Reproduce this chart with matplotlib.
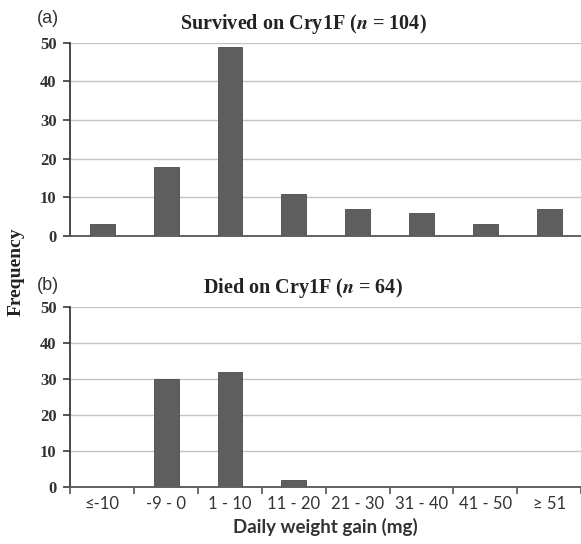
import matplotlib.pyplot as plt
import numpy as np

categories = ["\u2264-10", "-9 - 0", "1 - 10", "11 - 20", "21 - 30", "31 - 40", "41 - 50", "\u2265 51"]
survived = [3, 18, 49, 11, 7, 6, 3, 7]
died = [0, 30, 32, 2, 0, 0, 0, 0]

serif = "Liberation Serif"
sans = ["Lato", "DejaVu Sans"]
plt.rcParams["mathtext.fontset"] = "stix"

fig = plt.figure(figsize=(5.81, 5.44), dpi=100)
ax1 = fig.add_axes([0.1213, 0.566, 0.8787, 0.3553])
ax2 = fig.add_axes([0.1213, 0.1053, 0.8787, 0.3309])

x = np.arange(len(categories))

def style_axis(ax, counts, show_labels):
    ax.bar(x, counts, width=0.39, color="#5e5e5e", edgecolor="#4a4a4a", linewidth=0.6, zorder=3)
    ax.set_xlim(-0.5, len(categories) - 0.5)
    ax.set_ylim(0, 50)
    ax.set_yticks([0, 10, 20, 30, 40, 50])
    ax.yaxis.grid(True, color="#c4c4c4", linewidth=1.0, zorder=0)
    ax.set_axisbelow(True)
    for s in ["top", "right"]:
        ax.spines[s].set_visible(False)
    ax.spines["left"].set_color("#3a3a3a")
    ax.spines["bottom"].set_color("#555555")
    ax.spines["left"].set_linewidth(1.3)
    ax.spines["bottom"].set_linewidth(1.3)
    ax.tick_params(axis="y", length=5, width=1.2, color="#3a3a3a", pad=5)
    for lab in ax.get_yticklabels():
        lab.set_fontfamily(serif)
        lab.set_fontweight("bold")
        lab.set_fontsize(12)
        lab.set_color("#333333")
    if show_labels:
        ax.set_xticks(x)
        ax.set_xticklabels(categories, family=sans, fontsize=12, color="#333333")
        ax.set_xticks(np.arange(-0.5, len(categories)), minor=True)
        ax.tick_params(axis="x", which="major", length=0, pad=7)
        ax.tick_params(axis="x", which="minor", length=5, width=1.2, color="#555555")
    else:
        ax.set_xticks([])

style_axis(ax1, survived, False)
style_axis(ax2, died, True)

ax2.set_xlabel("Daily weight gain (mg)", family=sans, fontweight="bold", fontsize=13.5, color="#333333", labelpad=4)

fig.text(0.522, 0.956, "Survived on Cry1F ($\\mathbfit{n}$ = 104)", ha="center", va="center",
         family=serif, fontweight="bold", fontsize=14.5, color="#222222")
fig.text(0.522, 0.47, "Died on Cry1F ($\\mathbfit{n}$ = 64)", ha="center", va="center",
         family=serif, fontweight="bold", fontsize=14.5, color="#222222")
fig.text(0.064, 0.966, "(a)", ha="left", va="center", family="Liberation Sans", fontsize=13, color="#333333")
fig.text(0.064, 0.476, "(b)", ha="left", va="center", family="Liberation Sans", fontsize=13, color="#333333")
fig.text(0.028, 0.5, "Frequency", rotation=90, ha="center", va="center",
         family=serif, fontweight="bold", fontsize=14, color="#222222")

fig.savefig("out.png", dpi=100)
